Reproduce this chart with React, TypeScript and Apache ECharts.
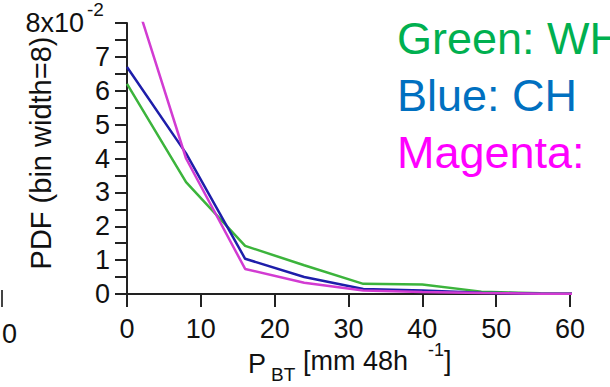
import React, { useEffect, useRef } from "react";
import * as echarts from "echarts";

const xBins = [0, 8, 16, 24, 32, 40, 48, 56, 64];
const greenValues = [6.2, 3.3, 1.42, 0.85, 0.3, 0.28, 0.07, 0.02, 0.01];
const blueValues = [6.7, 4.15, 1.04, 0.5, 0.15, 0.1, 0.04, 0.01, 0.0];
const magentaValues = [9.5, 4.0, 0.74, 0.33, 0.1, 0.06, 0.03, 0.01, 0.0];
const legendLines = ["Green: WH", "Blue: CH", "Magenta:"];
const legendColors = ["#00b050", "#0070c0", "#ff00ff"];
const yTickLabels = ["0", "1", "2", "3", "4", "5", "6", "7", "8x10"];

const FONT = "Liberation Sans, Arial, sans-serif";

export default function App() {
  const ref = useRef<HTMLDivElement>(null);
  useEffect(() => {
    if (!ref.current) return;
    const chart = echarts.init(ref.current, null, { renderer: "svg" });
    const toPairs = (vals: number[]) => xBins.map((x, i) => [x, vals[i]]);
    const lineSeries = (name: string, vals: number[], color: string) => ({
      name,
      type: "line",
      data: toPairs(vals),
      symbol: "none",
      clip: true,
      lineStyle: { color, width: 2.5 },
    });
    chart.setOption({
      animation: false,
      backgroundColor: "#ffffff",
      grid: { left: 127, right: 40, top: 23, bottom: 93, containLabel: false },
      xAxis: {
        type: "value",
        min: 0,
        max: 60,
        interval: 10,
        splitLine: { show: false },
        axisLine: { show: true, lineStyle: { color: "#222", width: 2 } },
        axisTick: { show: true, inside: false, length: 13, lineStyle: { color: "#222", width: 2 } },
        axisLabel: { color: "#111", fontSize: 27, fontFamily: FONT, margin: 21 },
      },
      yAxis: {
        type: "value",
        min: 0,
        max: 8,
        interval: 1,
        splitLine: { show: false },
        axisLine: { show: true, lineStyle: { color: "#222", width: 2 } },
        axisTick: { show: true, inside: false, length: 12, lineStyle: { color: "#222", width: 2 } },
        minorTick: { show: true, splitNumber: 2, length: 12, lineStyle: { color: "#222", width: 2 } },
        axisLabel: {
          color: "#111",
          fontSize: 27,
          fontFamily: FONT,
          margin: 17,
          formatter: (v: number) => {
            const lbl = yTickLabels[Math.round(v)];
            return v === 8 ? "{a|" + lbl + "}{s|}" : lbl;
          },
          rich: {
            a: { fontSize: 27, fontFamily: FONT, color: "#111" },
            s: { width: 26 },
          },
        },
      },
      series: [
        lineSeries("Green", greenValues, "#3cb43c"),
        lineSeries("Blue", blueValues, "#1e1eaa"),
        lineSeries("Magenta", magentaValues, "#d23cd2"),
      ],
      graphic: [
        {
          type: "text",
          x: 87,
          y: 9,
          style: { text: "-2", fontSize: 19, fontFamily: FONT, fill: "#111", textVerticalAlign: "middle" },
        },
        {
          type: "text",
          x: 41,
          y: 153,
          rotation: Math.PI / 2,
          style: {
            text: "PDF (bin width=8)",
            fontSize: 29,
            fontFamily: FONT,
            fill: "#111",
            textAlign: "center",
            textVerticalAlign: "middle",
          },
        },
        { type: "text", x: 248, y: 364, style: { text: "P", fontSize: 27, fontFamily: FONT, fill: "#111", textVerticalAlign: "middle" } },
        { type: "text", x: 271, y: 374, style: { text: "BT", fontSize: 19, fontFamily: FONT, fill: "#111", textVerticalAlign: "middle" } },
        { type: "text", x: 303, y: 361, style: { text: "[mm 48h", fontSize: 27, fontFamily: FONT, fill: "#111", textVerticalAlign: "middle" } },
        { type: "text", x: 428, y: 350, style: { text: "-1", fontSize: 18, fontFamily: FONT, fill: "#111", textVerticalAlign: "middle" } },
        { type: "text", x: 444, y: 361, style: { text: "]", fontSize: 27, fontFamily: FONT, fill: "#111", textVerticalAlign: "middle" } },
        { type: "text", x: 2, y: 334, style: { text: "0", fontSize: 27, fontFamily: FONT, fill: "#111", textVerticalAlign: "middle" } },
        { type: "line", shape: { x1: 2, y1: 290, x2: 2, y2: 307 }, style: { stroke: "#444", lineWidth: 2 } },
        ...legendLines.map((t, i) => ({
          type: "text",
          x: 397,
          y: 38 + i * 57,
          style: { text: t, fontSize: 45, fontFamily: FONT, fill: legendColors[i], textVerticalAlign: "middle" },
        })),
      ],
    });
    return () => chart.dispose();
  }, []);
  return <div ref={ref} style={{ position: "fixed", left: 0, top: 0, width: 610, height: 387 }} />;
}
